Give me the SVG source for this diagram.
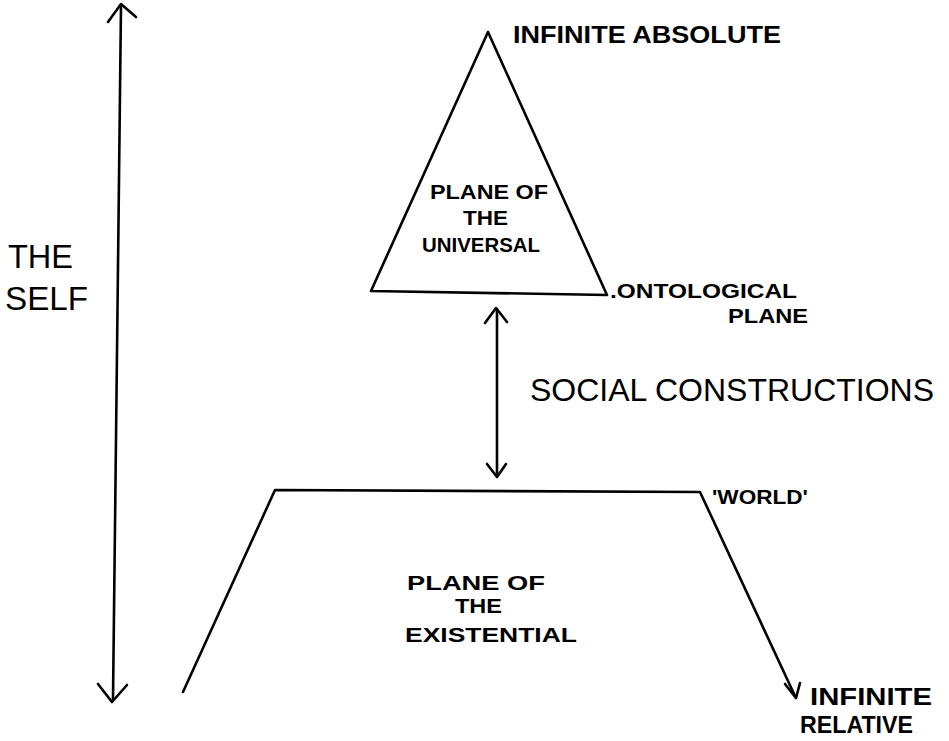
<svg xmlns="http://www.w3.org/2000/svg" width="949" height="741" viewBox="0 0 949 741">
<style>
.ln{fill:none;stroke:#000;stroke-width:2.6;stroke-linecap:round;stroke-linejoin:round}
text{font-family:"Liberation Sans",Arial,sans-serif;fill:#000;font-weight:bold}
.s{font-size:21px}
.m{font-size:23px}
.l{font-size:34px;font-weight:normal}
.sc{font-size:31.5px;font-weight:normal}
</style>
<rect width="949" height="741" fill="#fff"/>
<g id="connectors">
<path class="ln" d="M121,5 L113,700"/>
<path class="ln" d="M108,22 L121,4 L136,17"/>
<path class="ln" d="M98,684 L112,702 L127,685"/>
<path class="ln" d="M497,309 L497,475"/>
<path class="ln" d="M485,323 L496,308 L507,322"/>
<path class="ln" d="M487,464 L497,477 L506,464"/>
</g>
<g id="self">
<text class="l" x="8" y="268" textLength="65" lengthAdjust="spacingAndGlyphs">THE</text>
<text class="l" x="5" y="310" textLength="83" lengthAdjust="spacingAndGlyphs">SELF</text>
</g>
<g id="universal">
<path class="ln" d="M488,32 L371,291 M488,32 L607,295 M371,291 L607,295"/>
<text class="s" x="430" y="199" textLength="118" lengthAdjust="spacingAndGlyphs">PLANE OF</text>
<text class="s" x="463" y="225" textLength="45" lengthAdjust="spacingAndGlyphs">THE</text>
<text class="s" x="422" y="252" textLength="118" lengthAdjust="spacingAndGlyphs">UNIVERSAL</text>
</g>
<g id="absolute">
<text class="m" x="513" y="43" textLength="268" lengthAdjust="spacingAndGlyphs">INFINITE ABSOLUTE</text>
</g>
<g id="ontological">
<text class="s" x="610" y="298" textLength="187" lengthAdjust="spacingAndGlyphs">.ONTOLOGICAL</text>
<text class="s" x="728" y="323" textLength="80" lengthAdjust="spacingAndGlyphs">PLANE</text>
</g>
<g id="social">
<text class="sc" x="530" y="401" textLength="404" lengthAdjust="spacingAndGlyphs">SOCIAL CONSTRUCTIONS</text>
</g>
<g id="existential">
<path class="ln" d="M183,692 L275,490 L700,492 L795,696"/>
<path class="ln" d="M785,684 L796,698 L800,683"/>
<text class="s" x="407" y="590" textLength="138" lengthAdjust="spacingAndGlyphs">PLANE OF</text>
<text class="s" x="455" y="613" textLength="47" lengthAdjust="spacingAndGlyphs">THE</text>
<text class="s" x="405" y="642" textLength="172" lengthAdjust="spacingAndGlyphs">EXISTENTIAL</text>
</g>
<g id="world">
<text class="s" x="712" y="504" textLength="96" lengthAdjust="spacingAndGlyphs">'WORLD'</text>
</g>
<g id="relative">
<text class="m" x="810" y="705" textLength="122" lengthAdjust="spacingAndGlyphs">INFINITE</text>
<text class="m" x="800" y="733" textLength="113" lengthAdjust="spacingAndGlyphs">RELATIVE</text>
</g>
</svg>
